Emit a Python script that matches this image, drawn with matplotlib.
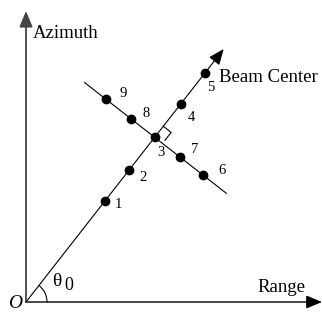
import numpy as np
import matplotlib.pyplot as plt
from matplotlib.patches import Arc

# geometry of the diagram (units ~ pixels, origin at O)
theta0_deg = 52.0
beam_dist = [128, 167, 209, 251, 291]      # points 1..5 along beam
beam_labels = ['1', '2', '3', '4', '5']
perp_dist = [61, 32, -30, -62]             # points 6..9 across beam (from point 3)
perp_labels = ['6', '7', '8', '9']
beam_len = 321
perp_ends = [-89, 91]
axis_len_x = 296
axis_len_y = 291

plt.rcParams['font.family'] = ['Liberation Serif', 'DejaVu Serif']

fig = plt.figure(figsize=(3.22, 3.15), dpi=100)
ax = fig.add_axes([0, 0, 1, 1])
ax.set_xlim(-26, 296)
ax.set_ylim(-13, 302)
ax.axis('off')

th = np.radians(theta0_deg)
u = np.array([np.cos(th), np.sin(th)])
v = np.array([np.sin(th), -np.cos(th)])

# axes
ax.annotate('', xy=(0, axis_len_y), xytext=(0, 0),
            arrowprops=dict(arrowstyle='-|>,head_length=0.6,head_width=0.25',
                            color='#444444', lw=1.3,
                            mutation_scale=16, shrinkA=0, shrinkB=0))
ax.annotate('', xy=(axis_len_x, 0), xytext=(0, 0),
            arrowprops=dict(arrowstyle='-|>,head_length=0.6,head_width=0.25',
                            color='black', lw=1.0,
                            mutation_scale=16, shrinkA=0, shrinkB=0))

# beam centre line
tip = u * beam_len
ax.annotate('', xy=tuple(tip), xytext=(0, 0),
            arrowprops=dict(arrowstyle='-|>,head_length=0.6,head_width=0.25',
                            color='black', lw=0.8,
                            mutation_scale=16, shrinkA=0, shrinkB=0))

p3 = u * beam_dist[2]
e1 = p3 + v * perp_ends[0]
e2 = p3 + v * perp_ends[1]
ax.plot([e1[0], e2[0]], [e1[1], e2[1]], color='black', lw=0.8)

# points
bp = np.array([u * d for d in beam_dist])
pp = np.array([p3 + v * d for d in perp_dist])
ax.plot(bp[:, 0], bp[:, 1], 'o', color='black', ms=6)
ax.plot(pp[:, 0], pp[:, 1], 'o', color='black', ms=6)

beam_off = [(10, -3), (11, -7), (3, -15), (7, -13), (2, -15)]
for (x, y), lab, (dx, dy) in zip(bp, beam_labels, beam_off):
    ax.text(x + dx, y + dy, lab, fontsize=10.5, ha='left', va='center')
perp_off = [(16, 4), (11, 8), (11, 5), (14, 6)]
for (x, y), lab, (dx, dy) in zip(pp, perp_labels, perp_off):
    ax.text(x + dx, y + dy, lab, fontsize=10.5, ha='left', va='center')

# right angle marker
s = 10
c0 = p3 + u * 4
sq = [c0, c0 + u * s, c0 + u * s + v * s, c0 + v * s]
ax.plot([sq[1][0], sq[2][0], sq[3][0]], [sq[1][1], sq[2][1], sq[3][1]],
        color='black', lw=0.8)

# angle arc
ax.add_patch(Arc((0, 0), 42, 42, theta1=0, theta2=theta0_deg, color='black', lw=0.8))

ax.text(7, 269, 'Azimuth', fontsize=13.5, ha='left', va='center')
ax.text(193, 225, 'Beam Center', fontsize=13.5, ha='left', va='center')
ax.text(231, 15, 'Range', fontsize=13.5, ha='left', va='center')
ax.text(-11, -2, 'O', fontsize=14, style='italic', ha='center', va='center')
ax.text(26, 21, 'θ', fontsize=14, ha='left', va='center')
ax.text(38, 17, '0', fontsize=13, ha='left', va='center')

fig.savefig('out.png', dpi=100)
